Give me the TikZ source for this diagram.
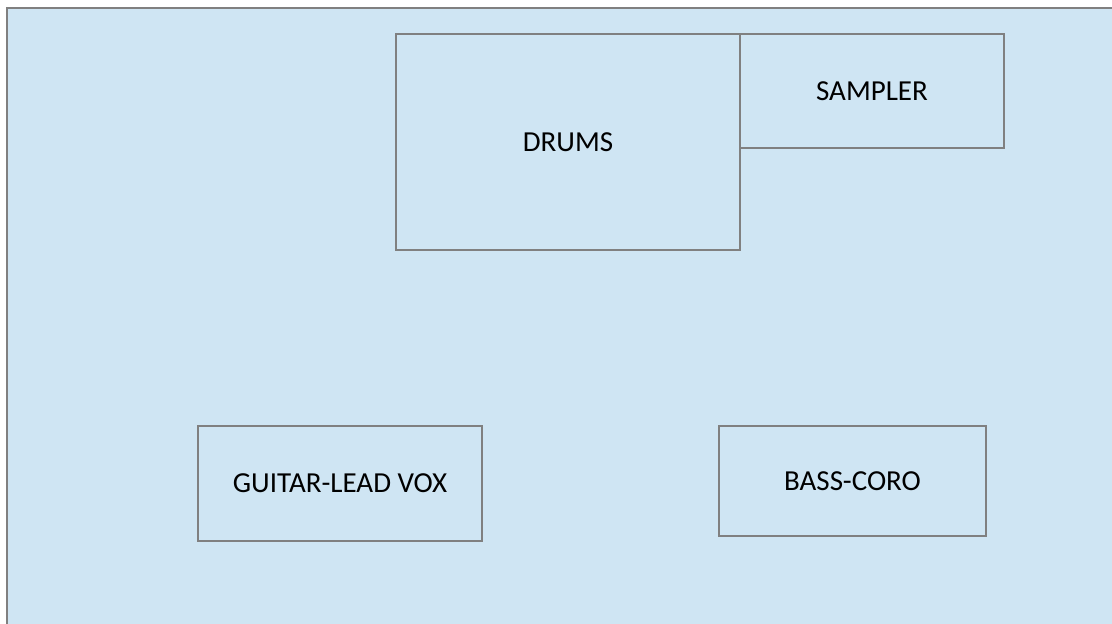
\documentclass[tikz,border=0pt]{standalone}
\usepackage{fontspec}
\setmainfont{Carlito}
\usetikzlibrary{positioning}
\definecolor{stagebg}{RGB}{207,229,243}
\definecolor{zoneline}{RGB}{128,128,128}

\begin{document}
\begin{tikzpicture}[x=0.5pt,y=-0.5pt,zone/.style={draw=zoneline,line width=0.9pt,rectangle,inner sep=0,outer sep=0,font=\fontsize{14.5}{17}\selectfont}]
\fill[white] (0,0) rectangle (1112,624);
\useasboundingbox (0,0) rectangle (1112,624);
\filldraw[fill=stagebg,draw=zoneline,line width=1.3pt] (7,8) rectangle (1130,640);
\node [zone, minimum width=172pt, minimum height=108pt] (drums) at (568,142) {DRUMS};
\node [zone, minimum width=132pt, minimum height=57pt, anchor=north west] (sampler) at (drums.north east) {SAMPLER};
\node [zone, minimum width=142pt, minimum height=57.5pt] (guitar) at (340,483.5) {GUITAR-LEAD VOX};
\node [zone, minimum width=133.5pt, minimum height=55pt] (bass) at (852.5,481) {BASS-CORO};
\end{tikzpicture}
\end{document}
